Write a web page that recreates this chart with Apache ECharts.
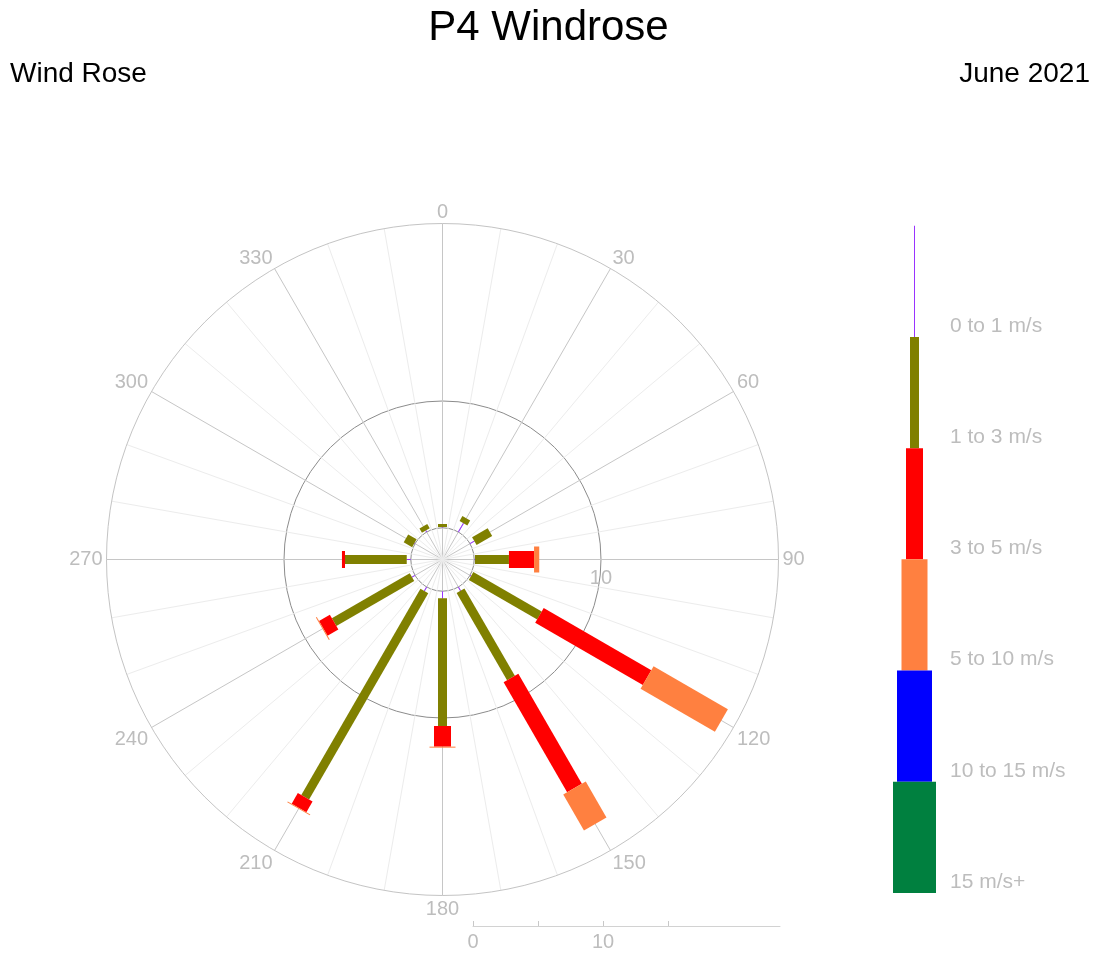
<!DOCTYPE html>
<html><head><meta charset="utf-8">
<script src="https://cdn.jsdelivr.net/npm/echarts@6/dist/echarts.min.js"></script>
<style>html,body{margin:0;padding:0;background:#fff}#c{width:1097px;height:953px}</style>
</head><body><div id="c"></div>
<script>
// ---- data ----
const directions = [0, 30, 60, 90, 120, 150, 180, 210, 240, 270, 300, 330];
const speedBins = ['0 to 1 m/s', '1 to 3 m/s', '3 to 5 m/s', '5 to 10 m/s', '10 to 15 m/s', '15 m/s+'];
const calm0to1 = [0.06, 0.81, 0.40, 0.06, 0.10, 0.34, 0.56, 0.36, 0.28, 0.32, 0.06, 0.13];
const speed1to3 = [0.24, 0.44, 1.42, 2.68, 6.23, 7.96, 10.07, 18.80, 7.09, 4.87, 0.77, 0.39];
const speed3to5 = [0, 0, 0, 1.98, 9.80, 10.02, 1.63, 0.97, 0.99, 0.24, 0, 0];
const speed5to10 = [0, 0, 0, 0.41, 6.77, 3.27, 0.08, 0.08, 0.08, 0, 0, 0];
const speed10to15 = [0, 0, 0, 0, 0, 0, 0, 0, 0, 0, 0, 0];
const speed15plus = [0, 0, 0, 0, 0, 0, 0, 0, 0, 0, 0, 0];
const angleTickLabels = ['0', '30', '60', '90', '120', '150', '180', '210', '240', '270', '300', '330'];
const radiusTickLabels = [10];
const bottomAxisLabels = [0, 10];

// ---- styles ----
const binColors = ['#9933ff', '#808000', '#ff0000', '#ff8040', '#0000ff', '#00803f'];
const binWidths = [1, 9, 17, 26, 35, 43];
const FONT = "'Liberation Sans', Arial, sans-serif";
const LABEL_GRAY = '#bdbdbd';

// stacked segments: [angle, start, end, binIndex]
const binSeries = [calm0to1, speed1to3, speed3to5, speed5to10, speed10to15, speed15plus];
const segments = [];
directions.forEach((d, i) => {
  let cum = 0;
  const ang = d < 90 ? d + 360 : d;
  binSeries.forEach((arr, b) => {
    const v = arr[i];
    if (v > 0) segments.push([ang, cum, cum + v, b]);
    cum += v;
  });
});

function roseItem(params, api) {
  const ang = api.value(0), r0 = api.value(1), r1 = api.value(2), b = api.value(3);
  const p0 = api.coord([r0, ang]);
  const p1 = api.coord([r1, ang]);
  const dx = p1[0] - p0[0], dy = p1[1] - p0[1];
  const len = Math.hypot(dx, dy);
  if (len < 0.01) return null;
  const w = binWidths[b] / 2;
  const nx = -dy / len * w, ny = dx / len * w;
  return {
    type: 'polygon',
    shape: { points: [[p0[0] + nx, p0[1] + ny], [p1[0] + nx, p1[1] + ny], [p1[0] - nx, p1[1] - ny], [p0[0] - nx, p0[1] - ny]] },
    style: { fill: binColors[b] }
  };
}

function legendItem(params, api) {
  const i = api.value(0);
  const top = api.coord([0, i]);
  const bot = api.coord([0, i + 1]);
  const w = binWidths[i];
  return {
    type: 'group',
    children: [
      { type: 'rect', shape: { x: top[0] - w / 2, y: top[1], width: w, height: bot[1] - top[1] }, style: { fill: binColors[i] } },
      { type: 'text', x: top[0] + 35.5, y: bot[1] - 11,
        style: { text: speedBins[i], fill: LABEL_GRAY, font: '21px ' + FONT, verticalAlign: 'middle', align: 'left' } }
    ]
  };
}

const radiusSplitColors = [];
for (let k = 0; k < 14; k++) radiusSplitColors.push('rgba(0,0,0,0)');
radiusSplitColors[1] = '#8c8c8c';
radiusSplitColors[5] = '#8c8c8c';

const chart = echarts.init(document.getElementById('c'), null, { renderer: 'canvas' });
chart.setOption({
  animation: false,
  backgroundColor: '#ffffff',
  textStyle: { fontFamily: FONT },
  title: [
    { text: 'P4 Windrose', left: 'center', top: 7, padding: 0, textStyle: { fontSize: 42, fontWeight: 'normal', color: '#000', fontFamily: FONT } },
    { text: 'Wind Rose', left: 10, top: 60, padding: 0, textStyle: { fontSize: 28, fontWeight: 'normal', color: '#000', fontFamily: FONT } },
    { text: 'June 2021', right: 7, top: 60, padding: 0, textStyle: { fontSize: 28, fontWeight: 'normal', color: '#000', fontFamily: FONT } }
  ],
  polar: { center: [442.5, 559.5], radius: [0, 336] },
  angleAxis: {
    type: 'value', min: 90, max: 450, interval: 30, startAngle: 0, clockwise: true,
    axisLine: { show: true, lineStyle: { color: '#c4c4c4', width: 1 } },
    axisTick: { show: false },
    axisLabel: {
      show: true, margin: 4, lineHeight: 14, padding: [3, 0, 0, 0], color: LABEL_GRAY, fontSize: 20, fontFamily: FONT,
      formatter: v => { const s = String(v % 360); return angleTickLabels.indexOf(s) >= 0 ? s : ''; }
    },
    splitLine: { show: true, lineStyle: { color: '#c6c6c6', width: 1 } },
    minorTick: { show: false, splitNumber: 3 },
    minorSplitLine: { show: true, lineStyle: { color: '#ececec', width: 1 } }
  },
  radiusAxis: {
    type: 'value', min: -2.5, max: 24, interval: 2.5,
    axisLine: { show: false }, axisTick: { show: false },
    axisLabel: { show: true, margin: -9, verticalAlign: 'top', align: 'center', color: LABEL_GRAY, fontSize: 20, fontFamily: FONT,
      formatter: v => radiusTickLabels.indexOf(Math.round(v * 100) / 100) >= 0 ? String(v) : '' },
    splitLine: { show: true, lineStyle: { color: radiusSplitColors, width: 1 } }
  },
  grid: [
    { left: 473, width: 307, top: 925, height: 1 },
    { left: 880, width: 69, top: 225.7, height: 667.3 }
  ],
  xAxis: [
    { gridIndex: 0, type: 'value', min: 0, max: 23.6, interval: 5,
      axisLine: { show: true, lineStyle: { color: '#d2d2d2' } },
      axisTick: { show: true, inside: true, length: 5, customValues: [0, 5, 10, 15], lineStyle: { color: '#c8c8c8' } },
      axisLabel: { show: true, customValues: bottomAxisLabels, margin: 6, color: LABEL_GRAY, fontSize: 20, fontFamily: FONT,
        formatter: v => bottomAxisLabels.indexOf(v) >= 0 ? String(v) : '' },
      splitLine: { show: false } },
    { gridIndex: 1, type: 'value', min: -1, max: 1, show: false }
  ],
  yAxis: [
    { gridIndex: 0, type: 'value', min: 0, max: 1, show: false },
    { gridIndex: 1, type: 'value', min: 0, max: 6, inverse: true, show: false }
  ],
  series: [
    { type: 'custom', coordinateSystem: 'polar', renderItem: roseItem, data: segments,
      encode: { radius: [1, 2], angle: 0 }, silent: true },
    { type: 'custom', coordinateSystem: 'cartesian2d', xAxisIndex: 1, yAxisIndex: 1, renderItem: legendItem,
      data: speedBins.map((s, i) => [i]), encode: { x: -1, y: 0 }, silent: true },
    { type: 'scatter', xAxisIndex: 0, yAxisIndex: 0, data: [] }
  ]
});
</script>
</body></html>
